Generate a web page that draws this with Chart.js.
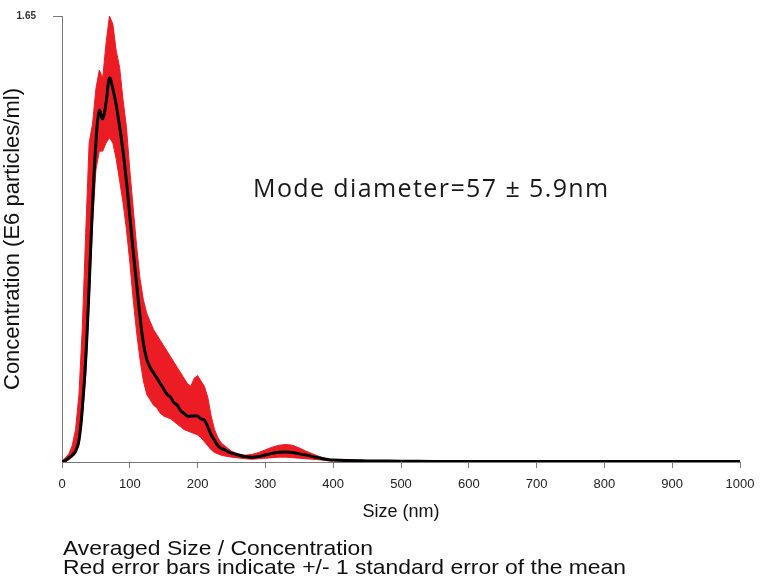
<!DOCTYPE html>
<html>
<head>
<meta charset="utf-8">
<script src="https://cdn.jsdelivr.net/npm/chart.js@4/dist/chart.umd.min.js"></script>
<style>
    body { margin: 0; background: #fff; }
    #wrap { position: relative; width: 764px; height: 583px; }
    #note { position: absolute; left: 253px; top: 170px; font-family: "Open Sans", sans-serif; font-size: 25px; letter-spacing: 1.4px; color: #1a1a1a; white-space: nowrap; }
    #caption { position: absolute; left: 63px; top: 538px; font-family: "Liberation Sans", Arial, sans-serif; font-size: 21px; line-height: 19px; color: #111; white-space: nowrap; transform: scaleX(1.09); transform-origin: 0 0; }
</style>
</head>
<body>
<div id="wrap">
    <canvas id="nta-chart" width="764" height="583"></canvas>
    <div id="note">Mode diameter=57 ± 5.9nm</div>
    <div id="caption">Averaged Size / Concentration<br>Red error bars indicate +/- 1 standard error of the mean</div>
</div>
<script>
// 粒徑 (nm)
var sizes = [0, 5, 10, 15, 20, 25, 30, 35, 40, 45, 50, 55, 60, 65, 70, 75, 80, 85, 90, 95,
    100, 105, 110, 115, 120, 125, 130, 135, 140, 145, 150, 155, 160, 165, 170, 175, 180, 185, 190, 195,
    200, 205, 210, 215, 220, 225, 230, 235, 240, 245, 250, 260, 270, 280, 290, 300, 310, 320, 330, 340,
    350, 360, 370, 380, 390, 400, 450, 500, 550, 600, 650, 700, 750, 800, 850, 900, 950, 1000];

// 平均濃度 (E6 particles/ml)
var meanConc = [0, 0.005, 0.015, 0.025, 0.04, 0.08, 0.2, 0.38, 0.65, 0.95, 1.18, 1.30, 1.27, 1.33, 1.42, 1.38, 1.32, 1.24, 1.15, 1.04,
    0.91, 0.78, 0.66, 0.54, 0.44, 0.38, 0.35, 0.33, 0.31, 0.29, 0.27, 0.25, 0.24, 0.22, 0.21, 0.19, 0.18, 0.17, 0.17, 0.17,
    0.17, 0.16, 0.155, 0.13, 0.10, 0.08, 0.06, 0.05, 0.045, 0.038, 0.033, 0.026, 0.02, 0.018, 0.02, 0.026, 0.032, 0.036, 0.037, 0.035,
    0.03, 0.026, 0.02, 0.015, 0.01, 0.007, 0.004, 0.003, 0.002, 0.002, 0.002, 0.002, 0.002, 0.002, 0.002, 0.002, 0.002, 0.002];

// 上限 (+1 SE)
var upperConc = [0.005, 0.015, 0.03, 0.06, 0.12, 0.25, 0.5, 0.85, 1.18, 1.25, 1.38, 1.45, 1.42, 1.55, 1.65, 1.62, 1.52, 1.46, 1.34, 1.24,
    1.08, 0.94, 0.80, 0.68, 0.60, 0.55, 0.52, 0.49, 0.47, 0.45, 0.43, 0.41, 0.39, 0.37, 0.35, 0.33, 0.31, 0.29, 0.28, 0.31,
    0.32, 0.30, 0.28, 0.24, 0.17, 0.12, 0.09, 0.07, 0.06, 0.05, 0.04, 0.03, 0.025, 0.028, 0.035, 0.045, 0.055, 0.062, 0.065, 0.062,
    0.052, 0.04, 0.03, 0.02, 0.012, 0.008, 0.005, 0.004, 0.003, 0.003, 0.003, 0.003, 0.003, 0.003, 0.003, 0.003, 0.003, 0.003];

// 下限 (-1 SE)
var lowerConc = [0, 0, 0.008, 0.018, 0.03, 0.06, 0.16, 0.32, 0.58, 0.88, 1.08, 1.15, 1.15, 1.18, 1.2, 1.18, 1.12, 1.04, 0.96, 0.86,
    0.74, 0.6, 0.48, 0.38, 0.3, 0.25, 0.23, 0.21, 0.2, 0.18, 0.17, 0.165, 0.16, 0.15, 0.14, 0.13, 0.12, 0.115, 0.11, 0.105,
    0.1, 0.09, 0.075, 0.06, 0.045, 0.035, 0.03, 0.025, 0.022, 0.02, 0.018, 0.015, 0.012, 0.01, 0.012, 0.014, 0.016, 0.018, 0.018, 0.016,
    0.014, 0.012, 0.01, 0.008, 0.005, 0.004, 0.001, 0.001, 0.001, 0.001, 0.001, 0.001, 0.001, 0.001, 0.001, 0.001, 0.001, 0.001];

var xTicks = [0, 100, 200, 300, 400, 500, 600, 700, 800, 900, 1000];
var yTopTick = 1.65;

function toPoints(values) {
    return sizes.map((s, i) => ({ x: s, y: values[i] }));
}

var red = 'rgb(236, 28, 36)';
var axisGrey = '#7a7a7a';

var ctx = document.getElementById('nta-chart').getContext('2d');
var ntaChart = new Chart(ctx, {
    type: 'line',
    data: {
        datasets: [
            {
                label: 'upper',
                data: toPoints(upperConc),
                borderColor: red,
                backgroundColor: red,
                borderWidth: 1,
                pointRadius: 0,
                fill: '+1',
                order: 2
            },
            {
                label: 'lower',
                data: toPoints(lowerConc),
                borderColor: red,
                borderWidth: 1,
                pointRadius: 0,
                fill: false,
                order: 2
            },
            {
                label: 'mean',
                data: toPoints(meanConc),
                borderColor: '#000',
                borderWidth: 3,
                pointRadius: 0,
                tension: 0.4,
                fill: false,
                order: 0
            }
        ]
    },
    options: {
        responsive: false,
        animation: false,
        layout: { padding: { left: 0, top: 16, right: 24, bottom: 60 } },
        plugins: {
            legend: { display: false },
            tooltip: { enabled: false }
        },
        scales: {
            x: {
                type: 'linear',
                min: 0,
                max: 1000,
                afterBuildTicks: function(scale) {
                    scale.ticks = xTicks.map(v => ({ value: v }));
                },
                afterFit: function(scale) { scale.height = 61; },
                grid: { drawOnChartArea: false, tickLength: 6, color: axisGrey },
                border: { color: axisGrey },
                ticks: {
                    color: '#222',
                    font: { family: 'Liberation Sans', size: 13 },
                    padding: 9,
                    maxRotation: 0,
                    callback: function(v) { return String(v); }
                },
                title: {
                    display: true,
                    text: 'Size (nm)',
                    color: '#111',
                    font: { family: 'Liberation Sans', size: 18 },
                    padding: { top: 4, bottom: 0 }
                }
            },
            y: {
                min: 0,
                max: 1.65,
                afterBuildTicks: function(scale) {
                    scale.ticks = [{ value: yTopTick }];
                },
                afterFit: function(scale) {
                    scale.width = 62;
                    // 刻度間距不應撐大上方留白
                    scale.paddingTop = 0;
                    scale.paddingBottom = 0;
                },
                grid: { drawOnChartArea: false, tickLength: 9, color: axisGrey },
                border: { color: axisGrey },
                ticks: {
                    color: '#333',
                    font: { family: 'Liberation Sans', size: 10, weight: 'bold' },
                    padding: 17,
                    callback: function(v) { return v.toFixed(2); }
                },
                title: {
                    display: true,
                    text: 'Concentration (E6 particles/ml)',
                    color: '#111',
                    font: { family: 'Liberation Sans', size: 22 },
                    padding: { top: 0, bottom: 0 }
                }
            }
        }
    }
});
</script>
</body>
</html>
